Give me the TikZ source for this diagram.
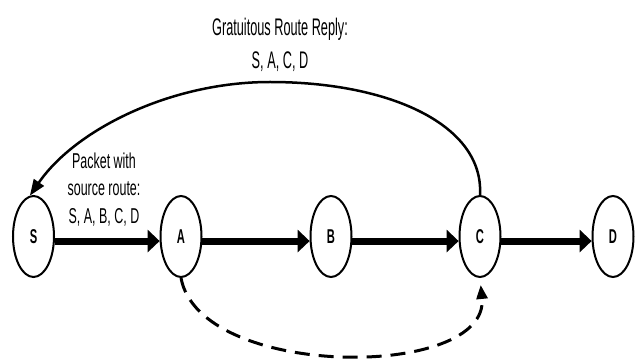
\documentclass[tikz,border=0pt]{standalone}
\usepackage{fontspec}
\newfontfamily\replysans{Liberation Sans}[FakeStretch=0.53]
\newfontfamily\packetsans{Liberation Sans}[FakeStretch=0.58]
\newfontfamily\stationsans{Liberation Sans}[FakeStretch=0.56]
\usetikzlibrary{arrows.meta,shapes.geometric}
\begin{document}
\begin{tikzpicture}[x=1pt,y=-1pt,
  station/.style={ellipse,draw,line width=2pt,minimum width=41pt,minimum height=81pt,
    inner sep=0pt,font=\stationsans\bfseries\fontsize{20}{22}\selectfont},
  hop/.style={line width=7pt,-{Triangle[length=12pt,width=22pt]}},
  reply/.style={line width=2.5pt,-{Triangle[length=16pt,width=12pt]}},
  shortcut/.style={line width=3pt,dash pattern=on 15pt off 9pt,
    -{Triangle[length=14pt,width=11pt]}},
  caption/.style={align=center,inner sep=0pt}]
  \useasboundingbox (0,0) rectangle (635,363);

  % stations along the route
  \node[station] (S) at (33.5,236.5) {S};
  \node[station] (A) at (181,236.5) {A};
  \node[station] (B) at (331,236.5) {B};
  \node[station] (C) at (480,236.5) {C};
  \node[station] (D) at (613,236.5) {D};

  % labels
  \node[caption,font=\replysans\fontsize{24}{32.6}\selectfont] (reply) at (280,45)
    {Gratuitous Route Reply:\\S, A, C, D};
  \node[caption,font=\packetsans\fontsize{21.5}{27.5}\selectfont] (packet) at (104,189.5)
    {Packet with\\source route:\\S, A, B, C, D};

  % forwarding hops
  \draw[hop] (S.-12.7) -- (A.192.7);
  \draw[hop] (A.-12.7) -- (B.192.7);
  \draw[hop] (B.-12.7) -- (C.192.7);
  \draw[hop] (C.-12.7) -- (D.192.7);

  % gratuitous reply back to the source
  \draw[reply] (C.north) .. controls +(4,-70) and (390,82) .. (270,82)
    .. controls (170,82) and (75,130) .. (S.95);

  % shortened route A to C
  \draw[shortcut,shorten >=7pt] (A.south) .. controls (200,380) and (490,380) .. (C.south);
\end{tikzpicture}
\end{document}
